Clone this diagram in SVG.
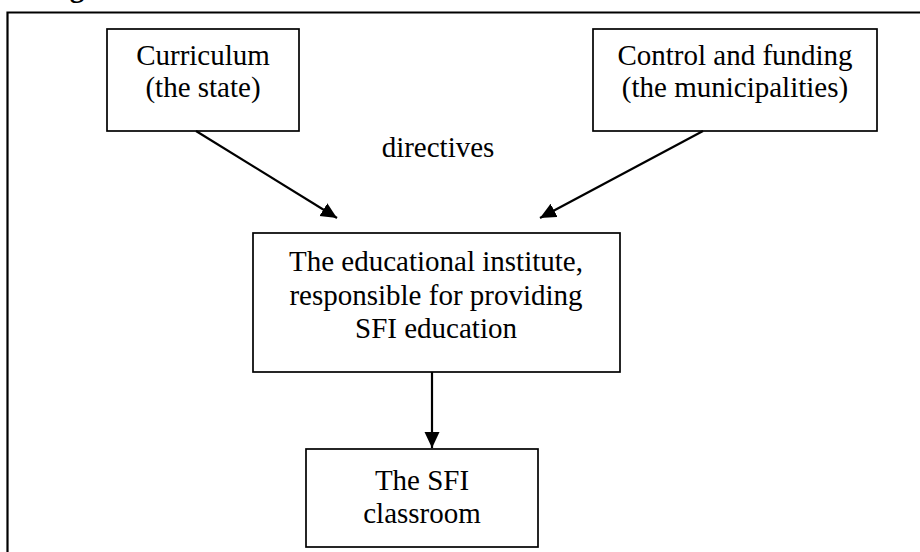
<svg xmlns="http://www.w3.org/2000/svg" width="920" height="552" viewBox="0 0 920 552">
  <style>
    .box { fill: #ffffff; stroke: #000000; stroke-width: 1.7; }
    .lbl { font-family: "Liberation Serif", "Times New Roman", serif; font-size: 29px; fill: #000000; text-anchor: middle; }
    .edge { stroke: #000000; stroke-width: 2.2; fill: none; marker-end: url(#head); }
  </style>
  <defs>
    <marker id="head" markerUnits="userSpaceOnUse" markerWidth="18" markerHeight="16" refX="16" refY="7.5" orient="auto">
      <path d="M0,0 L16,7.5 L0,15 Z" fill="#000000"/>
    </marker>
  </defs>

  <rect width="920" height="552" fill="#ffffff"/>

  <!-- caption above the frame, running off the top edge -->
  <text x="44" y="-3" font-family="Liberation Serif, Times New Roman, serif" font-size="29" font-weight="bold" fill="#000000">Figure</text>

  <!-- outer frame (open to the right and bottom) -->
  <path d="M7.5,560 V12.5 H930" fill="none" stroke="#000000" stroke-width="2.2"/>

  <g id="curriculum">
    <rect class="box" x="107" y="29" width="192" height="102"/>
    <text class="lbl" x="203" y="65">Curriculum</text>
    <text class="lbl" x="203" y="97">(the state)</text>
  </g>

  <g id="control">
    <rect class="box" x="593" y="29" width="284" height="102"/>
    <text class="lbl" x="735" y="65">Control and funding</text>
    <text class="lbl" x="735" y="97">(the municipalities)</text>
  </g>

  <g id="directives-label">
    <text class="lbl" x="438" y="157">directives</text>
  </g>

  <g id="institute">
    <rect class="box" x="253" y="233" width="367" height="139"/>
    <text class="lbl" x="436" y="271">The educational institute,</text>
    <text class="lbl" x="436" y="305">responsible for providing</text>
    <text class="lbl" x="436" y="338">SFI education</text>
  </g>

  <g id="classroom">
    <rect class="box" x="306" y="449" width="232" height="98"/>
    <text class="lbl" x="422" y="490">The SFI</text>
    <text class="lbl" x="422" y="523">classroom</text>
  </g>

  <g id="connectors">
    <line class="edge" x1="196" y1="131" x2="337" y2="218"/>
    <line class="edge" x1="703" y1="131" x2="540" y2="218"/>
    <line class="edge" x1="432" y1="372" x2="432" y2="448"/>
  </g>
</svg>
